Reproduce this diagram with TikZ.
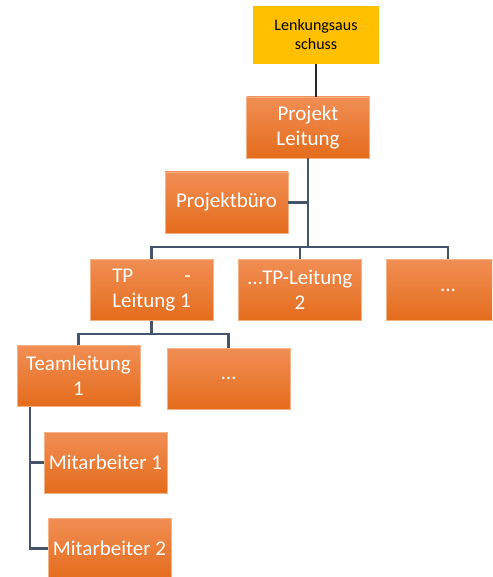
\documentclass[tikz,border=0pt]{standalone}
\usepackage{fontspec}
\setmainfont{Carlito}
\usepackage{calc}
\usepackage{tikz}
\usetikzlibrary{positioning, calc}
\definecolor{orgtop}{RGB}{241,142,84}
\definecolor{orgmid}{RGB}{240,124,44}
\definecolor{orgbot}{RGB}{228,108,28}
\definecolor{orgedge}{RGB}{246,178,135}
\definecolor{steer}{RGB}{255,192,0}
\definecolor{slate}{RGB}{68,84,106}
\begin{document}
\begin{tikzpicture}[
        x=1pt, y=-1pt,
        unit/.style={draw=orgedge, line width=0.8pt, top color=orgtop, middle color=orgmid, bottom color=orgbot,
                     text=white, align=center, inner sep=0pt, minimum width=123pt, minimum height=61pt,
                     font=\fontsize{21}{25}\selectfont},
        board/.style={fill=steer, text=black, align=center, inner sep=0pt, minimum width=126pt, minimum height=58pt,
                      font=\fontsize{16}{19}\selectfont},
        link/.style={draw=slate, line width=2.6pt},
        toplink/.style={draw=black!85, line width=1.8pt}
    ]
        \useasboundingbox (0,0) rectangle (492,577);
        \clip (0,0) rectangle (492,577);
        % -- top of the chart --
        \node[board] (lenk) at (316, 35)    {Lenkungsaus\\schuss};
        \node[unit]  (pl)   at (308, 127.5) {Projekt\\Leitung};
        \node[unit]  (pb)   at (226.5, 202.5) {Projektbüro};
        % -- subproject row --
        \node[unit] (tp1) at (151.5, 290) {\makebox[\widthof{Leitung 1}][s]{TP\hfill-}\\Leitung 1};
        \node[unit] (tp2) at (300, 290)   {…TP-Leitung\\2};
        \node[unit] (tp3) at (448, 290)   {…};
        % -- team row --
        \node[unit] (tl1)   at (78.5, 376)   {Teamleitung\\1};
        \node[unit] (tdots) at (228.5, 378.5) {…};
        % -- staff --
        \node[unit] (ma1) at (105.5, 462.5) {Mitarbeiter 1};
        \node[unit] (ma2) at (109.5, 548.5) {Mitarbeiter 2};

        % steering committee -> project lead
        \draw[toplink] (lenk.south) -- (lenk.south |- pl.north);

        % spine with office branch
        \coordinate (bar1) at (308, 247);
        \draw[link] (pl.south) -- (bar1);
        \draw[link] (pb.east) -- (pb.east -| pl.south);
        \draw[link] (bar1) -| (tp1.north);
        \draw[link] (bar1) -| (tp2.north);
        \draw[link] (bar1) -| (tp3.north);

        % subproject 1 -> teams
        \coordinate (bar2) at (151.5, 334);
        \draw[link] (tp1.south) -- (bar2);
        \draw[link] (bar2) -| (tl1.north);
        \draw[link] (bar2) -| (tdots.north);

        % team lead -> staff (side rail)
        \coordinate (rail) at (30, 407);
        \draw[link] (rail) |- (ma1.west);
        \draw[link] (rail) |- (ma2.west);
    \end{tikzpicture}
\end{document}
